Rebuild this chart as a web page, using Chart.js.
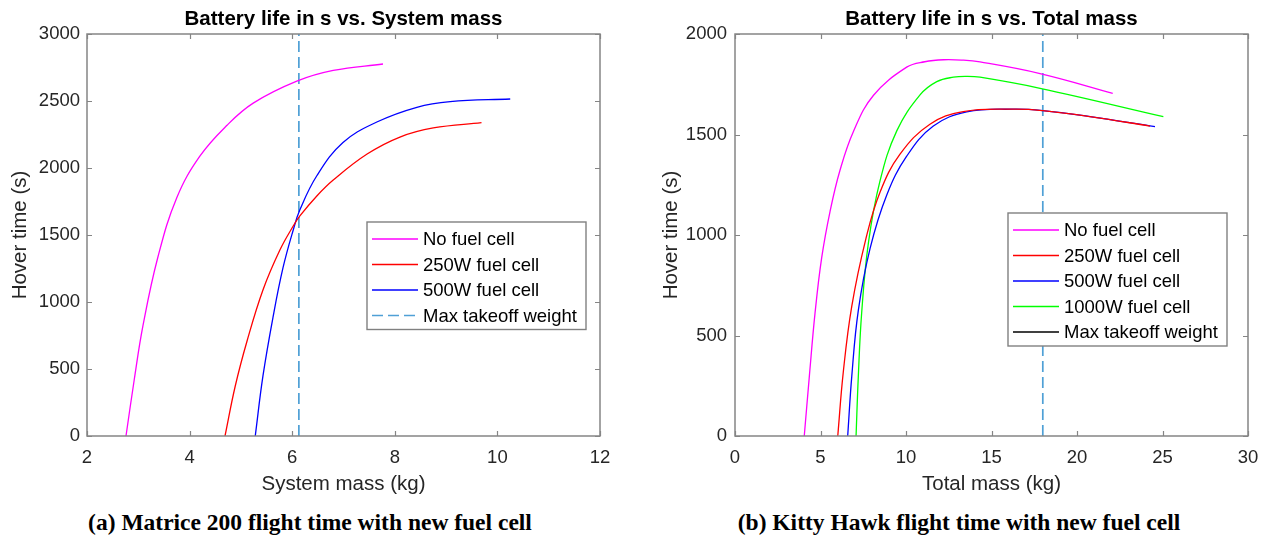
<!DOCTYPE html>
<html>
<head>
<meta charset="utf-8">
<script src="https://cdn.jsdelivr.net/npm/chart.js@4.4.1/dist/chart.umd.min.js"></script>
<style>
  html, body { margin: 0; padding: 0; background: #fff; }
  #page { position: relative; width: 1270px; height: 540px; overflow: hidden; }
  canvas { position: absolute; top: 0; }
  .caption {
    position: absolute; top: 511px; font: bold 23.5px/23.5px "Liberation Serif", "Times New Roman", serif;
    color: #000; white-space: nowrap; transform: translateX(-50%);
  }
</style>
</head>
<body>
<div id="page">
  <canvas id="chartA" width="635" height="500" style="left:0"></canvas>
  <canvas id="chartB" width="635" height="500" style="left:635px"></canvas>
  <div class="caption" style="left:310px">(a) Matrice 200 flight time with new fuel cell</div>
  <div class="caption" style="left:959px">(b) Kitty Hawk flight time with new fuel cell</div>
</div>
<script>
// --- (a) Matrice 200: hover time (s) vs system mass (kg)
var aNoFcMass = [2.76, 2.92, 3.09, 3.38, 3.75, 4.20, 4.73, 5.24, 6.09, 6.80, 7.77];
var aNoFcTime = [0, 418, 821, 1332, 1778, 2088, 2319, 2484, 2648, 2728, 2776];
var a250Mass = [4.69, 4.89, 5.12, 5.43, 5.76, 6.02, 6.15, 6.48, 6.80, 7.46, 8.10, 8.75, 9.69];
var a250Time = [0, 373, 709, 1090, 1388, 1567, 1642, 1791, 1910, 2104, 2231, 2299, 2338];
var a500Mass = [5.28, 5.43, 5.63, 5.82, 6.02, 6.15, 6.48, 6.99, 7.65, 8.43, 9.08, 10.25];
var a500Time = [0, 448, 895, 1254, 1537, 1688, 1942, 2190, 2343, 2453, 2495, 2515];
var aMaxTakeoff = 6.13;
var aXTicks = [2, 4, 6, 8, 10, 12];
var aYTicks = [0, 500, 1000, 1500, 2000, 2500, 3000];

// --- (b) Kitty Hawk: hover time (s) vs total mass (kg)
var bNoFcMass = [4.05, 4.35, 4.68, 5.07, 5.56, 6.14, 6.92, 8.09, 10.04, 11.10, 12.20, 13.30, 14.33, 17.84, 22.09];
var bNoFcTime = [0, 299, 611, 887, 1118, 1322, 1514, 1694, 1835, 1862, 1872, 1870, 1861, 1803, 1705];
var b250Mass = [6.01, 6.33, 6.83, 7.66, 8.48, 9.65, 11.40, 13.35, 16.28, 17.99, 20.76, 24.27];
var b250Time = [0, 316, 646, 983, 1213, 1402, 1551, 1614, 1626, 1619, 1589, 1542];
var b500Mass = [6.59, 6.83, 7.21, 7.90, 8.87, 10.04, 11.60, 13.55, 16.28, 17.99, 20.76, 24.56];
var b500Time = [0, 298, 624, 933, 1198, 1392, 1542, 1612, 1626, 1619, 1589, 1539];
var b1000Mass = [7.08, 7.21, 7.41, 7.80, 8.48, 9.46, 10.82, 11.80, 12.77, 13.60, 14.33, 17.84, 25.05];
var b1000Time = [0, 294, 616, 960, 1269, 1518, 1697, 1763, 1785, 1789, 1785, 1730, 1589];
var bMaxTakeoff = 18;
var bXTicks = [0, 5, 10, 15, 20, 25, 30];
var bYTicks = [0, 500, 1000, 1500, 2000];

var FONT = '"Liberation Sans", Arial, Helvetica, sans-serif';
var TAKEOFF_COLOR = '#4FA0D6';

Chart.defaults.font.family = FONT;
Chart.defaults.color = '#262626';

function pts(xs, ys) {
  return xs.map(function(x, i) { return { x: x, y: ys[i] }; });
}

function curve(label, color, xs, ys) {
  return {
    label: label, data: pts(xs, ys), borderColor: color, borderWidth: 1.3,
    showLine: true, pointRadius: 0, tension: 0.4, fill: false
  };
}

function vline(label, x, yMin, yMax, legendColor, legendDash) {
  return {
    label: label, data: [{ x: x, y: yMin }, { x: x, y: yMax }],
    borderColor: TAKEOFF_COLOR, borderWidth: 1.7, borderDash: [11, 5],
    showLine: true, pointRadius: 0, tension: 0, fill: false,
    legendColor: legendColor || TAKEOFF_COLOR, legendDash: legendDash || [11, 5]
  };
}

// MATLAB-like box, inward ticks, title and in-plot legend
var matlabFrame = {
  id: 'matlabFrame',
  afterDatasetsDraw: function(chart, args, opts) {
    var a = chart.chartArea, ctx = chart.ctx;
    var xs = chart.scales.x, ys = chart.scales.y;
    ctx.save();
    ctx.strokeStyle = '#858585';
    ctx.lineWidth = 1.5;
    ctx.setLineDash([]);
    ctx.strokeRect(a.left, a.top, a.right - a.left, a.bottom - a.top);
    ctx.beginPath();
    xs.ticks.forEach(function(t) {
      var p = Math.round(xs.getPixelForValue(t.value)) + 0.5;
      ctx.moveTo(p, a.bottom); ctx.lineTo(p, a.bottom - 5);
      ctx.moveTo(p, a.top); ctx.lineTo(p, a.top + 5);
    });
    ys.ticks.forEach(function(t) {
      var p = Math.round(ys.getPixelForValue(t.value)) + 0.5;
      ctx.moveTo(a.left, p); ctx.lineTo(a.left + 5, p);
      ctx.moveTo(a.right, p); ctx.lineTo(a.right - 5, p);
    });
    ctx.lineWidth = 1.2;
    ctx.stroke();

    // title
    ctx.fillStyle = '#000';
    ctx.font = 'bold 20.5px ' + FONT;
    ctx.textAlign = 'center';
    ctx.textBaseline = 'alphabetic';
    ctx.fillText(opts.title, (a.left + a.right) / 2, 25);

    // legend
    var b = opts.box, n = chart.data.datasets.length;
    var h = 17 + (n - 1) * 25.5 + 14;
    ctx.fillStyle = '#fff';
    ctx.fillRect(b.x, b.y, b.w, h);
    ctx.strokeStyle = '#808080';
    ctx.lineWidth = 1.4;
    ctx.strokeRect(b.x, b.y, b.w, h);
    ctx.font = '18.5px ' + FONT;
    ctx.textAlign = 'left';
    ctx.textBaseline = 'middle';
    chart.data.datasets.forEach(function(ds, i) {
      var y = b.y + 17 + i * 25.5;
      ctx.beginPath();
      ctx.strokeStyle = ds.legendColor || ds.borderColor;
      ctx.lineWidth = 1.4;
      ctx.setLineDash(ds.legendDash || []);
      ctx.moveTo(b.x + 5, y); ctx.lineTo(b.x + 51, y);
      ctx.stroke();
      ctx.setLineDash([]);
      ctx.fillStyle = '#000';
      ctx.fillText(ds.label, b.x + 56, y + 1);
    });
    ctx.restore();
  }
};

function plain(v) { return String(v); }

function buildPlot(canvasId, datasets, cfg) {
  var ctx = document.getElementById(canvasId);
  return new Chart(ctx.getContext('2d'), {
    type: 'scatter',
    data: { datasets: datasets },
    plugins: [matlabFrame],
    options: {
      responsive: false,
      devicePixelRatio: 1,
      animation: false,
      layout: { padding: { top: 34, right: cfg.padRight, bottom: 0, left: 0 } },
      plugins: {
        legend: { display: false },
        title: { display: false },
        tooltip: { enabled: false },
        matlabFrame: { title: cfg.title, box: cfg.box }
      },
      scales: {
        x: {
          type: 'linear', min: cfg.xTicks[0], max: cfg.xTicks[cfg.xTicks.length - 1],
          afterBuildTicks: function(s) { s.ticks = cfg.xTicks.map(function(v) { return { value: v }; }); },
          afterFit: function(s) { s.height = 64; },
          grid: { display: false, drawTicks: false },
          border: { display: false },
          ticks: { font: { size: 18.5 }, color: '#262626', padding: 11, maxRotation: 0, autoSkip: false, callback: plain },
          title: { display: true, text: cfg.xTitle, font: { size: 20.5 }, color: '#262626', padding: { top: 0, bottom: 3 } }
        },
        y: {
          type: 'linear', min: cfg.yTicks[0], max: cfg.yTicks[cfg.yTicks.length - 1],
          afterBuildTicks: function(s) { s.ticks = cfg.yTicks.map(function(v) { return { value: v }; }); },
          afterFit: function(s) { s.width = cfg.yWidth; },
          grid: { display: false, drawTicks: false },
          border: { display: false },
          ticks: { font: { size: 18.5 }, color: '#262626', padding: cfg.yPad, autoSkip: false, callback: plain },
          title: { display: true, text: 'Hover time (s)', font: { size: 20.5 }, color: '#262626', padding: { top: cfg.yTitlePad, bottom: 0 } }
        }
      }
    }
  });
}

buildPlot('chartA', [
  curve('No fuel cell', '#FF00FF', aNoFcMass, aNoFcTime),
  curve('250W fuel cell', '#FF0000', a250Mass, a250Time),
  curve('500W fuel cell', '#0000FF', a500Mass, a500Time),
  vline('Max takeoff weight', aMaxTakeoff, 0, 3000)
], {
  title: 'Battery life in s vs. System mass', xTitle: 'System mass (kg)',
  xTicks: aXTicks, yTicks: aYTicks, padRight: 35, yWidth: 87, yPad: 7, yTitlePad: 8,
  box: { x: 367, y: 222, w: 219 }
});

buildPlot('chartB', [
  curve('No fuel cell', '#FF00FF', bNoFcMass, bNoFcTime),
  curve('250W fuel cell', '#FF0000', b250Mass, b250Time),
  curve('500W fuel cell', '#0000FF', b500Mass, b500Time),
  curve('1000W fuel cell', '#00FF00', b1000Mass, b1000Time),
  vline('Max takeoff weight', bMaxTakeoff, 0, 2000, '#000000', [])
], {
  title: 'Battery life in s vs. Total mass', xTitle: 'Total mass (kg)',
  xTicks: bXTicks, yTicks: bYTicks, padRight: 22, yWidth: 100, yPad: 8, yTitlePad: 24,
  box: { x: 373, y: 213, w: 219 }
});
</script>
</body>
</html>
